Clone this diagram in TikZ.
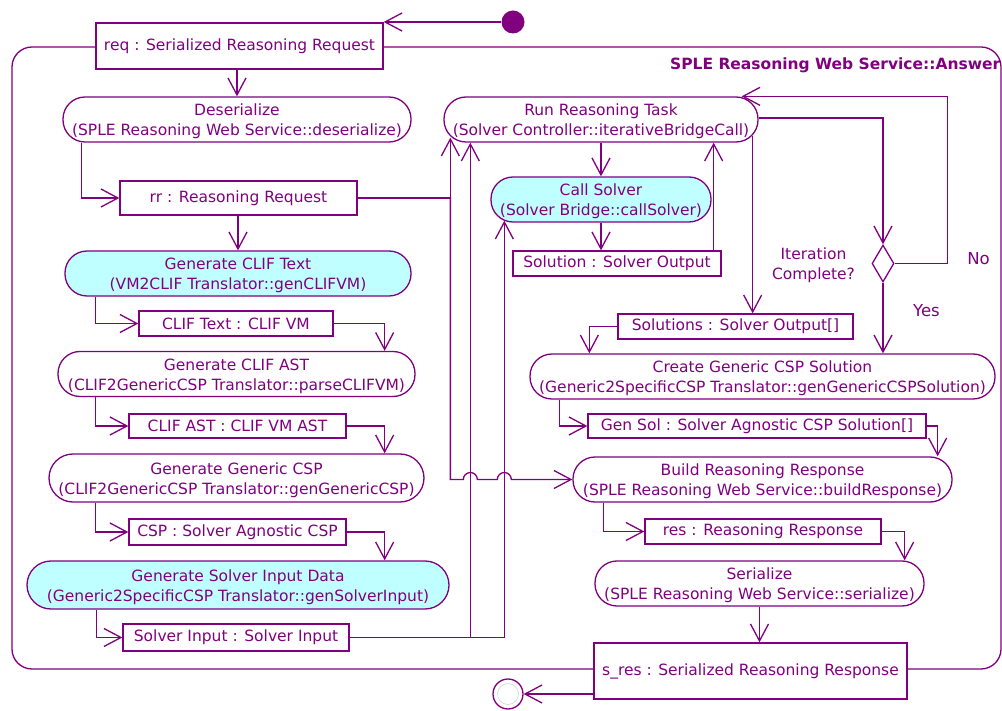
\documentclass[tikz,border=0pt]{standalone}
\usepackage{fontspec}
\setmainfont{DejaVu Sans}
\usetikzlibrary{arrows.meta,shapes.geometric}
\definecolor{pu}{RGB}{128,0,128}
\definecolor{cy}{RGB}{192,255,255}
\begin{document}
\begin{tikzpicture}[x=1pt,y=-1pt,
  every node/.style={text=pu, font=\fontsize{15.5}{20}\selectfont, inner sep=0pt},
  base/.style={draw=pu, line width=1.3pt, fill=white, align=center},
  act/.style={base, rounded corners=22pt, minimum height=45pt, text height=35.5pt},
  cact/.style={act, fill=cy},
  obj/.style={base},
  ln/.style={draw=pu, line width=1.3pt},
  arr/.style={ln, -{Straight Barb[length=17pt,width=18pt,line width=1.3pt]}},
  lbl/.style={font=\fontsize{16.5}{20}\selectfont}
]
\useasboundingbox (0,0) rectangle (1002,711);

% frame
\draw[ln, rounded corners=20pt] (12,47) rectangle (1001,669);
\node[anchor=east, font=\bfseries\fontsize{15.5}{20}\selectfont] (title) at (1000.5,65) {SPLE Reasoning Web Service::Answer};

% start / end
\node[circle, fill=pu, minimum size=23pt] (start) at (513,22) {};
\node[circle, draw=pu, line width=1.3pt, fill=white, minimum size=30pt] (end) at (508,694) {};
\draw[black!20, line width=0.5pt] (end.center) circle[radius=10.5pt];

% left column
\node[obj, minimum width=287pt, minimum height=46pt] (req) at (239.5,46) {req : Serialized Reasoning Request};
\node[act, minimum width=348pt] (des) at (237,119.5) {Deserialize\\(SPLE Reasoning Web Service::deserialize)};
\node[obj, minimum width=237pt, minimum height=34pt] (rr) at (238.5,198) {rr : Reasoning Request};
\node[cact, minimum width=346pt] (gct) at (238,273.5) {Generate CLIF Text\\(VM2CLIF Translator::genCLIFVM)};
\node[obj, minimum width=194pt, minimum height=25pt] (clt) at (236,323.5) {CLIF Text : CLIF VM};
\node[act, minimum width=357pt] (gca) at (236.5,374) {Generate CLIF AST\\(CLIF2GenericCSP Translator::parseCLIFVM)};
\node[obj, minimum width=217pt, minimum height=24pt] (cla) at (237.5,426) {CLIF AST : CLIF VM AST};
\node[act, minimum width=375pt, minimum height=48pt, rounded corners=24pt] (ggc) at (236.5,478) {Generate Generic CSP\\(CLIF2GenericCSP Translator::genGenericCSP)};
\node[obj, minimum width=217pt, minimum height=26pt] (csp) at (237.5,532) {CSP : Solver Agnostic CSP};
\node[cact, minimum width=422pt, minimum height=48pt, rounded corners=24pt] (gsid) at (238,585) {Generate Solver Input Data\\(Generic2SpecificCSP Translator::genSolverInput)};
\node[obj, minimum width=226pt, minimum height=27pt] (si) at (236,637.5) {Solver Input : Solver Input};

% right column
\node[act, minimum width=314pt] (rrt) at (601,119.5) {Run Reasoning Task\\(Solver Controller::iterativeBridgeCall)};
\node[cact, minimum width=220pt] (cs) at (601,199.5) {Call Solver\\(Solver Bridge::callSolver)};
\node[obj, minimum width=208pt, minimum height=25pt] (sol) at (617,263.5) {Solution : Solver Output};
\node[diamond, draw=pu, line width=1.3pt, fill=white, minimum width=22pt, minimum height=37pt] (dia) at (883,263.5) {};
\node[align=center, text height=35.5pt] (itc) at (813.5,263) {Iteration\\Complete?};
\node[lbl] (no) at (978.5,259) {No};
\node[lbl] (yes) at (926.5,311) {Yes};
\node[obj, minimum width=235pt, minimum height=25pt] (sols) at (735.5,326.5) {Solutions : Solver Output[]};
\node[act, minimum width=465pt] (cgcs) at (762.5,376.5) {Create Generic CSP Solution\\(Generic2SpecificCSP Translator::genGenericCSPSolution)};
\node[obj, minimum width=338pt, minimum height=24pt] (gensol) at (757,426) {Gen Sol : Solver Agnostic CSP Solution[]};
\node[act, minimum width=379pt] (brr) at (762.5,479.5) {Build Reasoning Response\\(SPLE Reasoning Web Service::buildResponse)};
\node[obj, minimum width=236pt, minimum height=25pt] (res) at (763,531.5) {res : Reasoning Response};
\node[act, minimum width=329pt] (ser) at (759.5,583.5) {Serialize\\(SPLE Reasoning Web Service::serialize)};
\node[obj, minimum width=313pt, minimum height=56pt] (sres) at (750.5,671) {s\_res : Serialized Reasoning Response};

% connectors: left column
\draw[arr] (start.west) -- (start.west -| req.east);
\draw[arr] (des.north |- req.south) -- (des.north);
\draw[arr] ([xshift=19pt]des.south west) |- (rr.west);
\draw[arr] (gct.north |- rr.south) -- (gct.north);
\draw[arr] ([xshift=31pt]gct.south west) |- (clt.west);
\draw[arr] (clt.east) -| ([xshift=-31pt]gca.north east);
\draw[arr] ([xshift=38pt]gca.south west) |- (cla.west);
\draw[arr] (cla.east) -| ([xshift=-40pt]ggc.north east);
\draw[arr] ([xshift=47pt]ggc.south west) |- (csp.west);
\draw[arr] (csp.east) -| ([xshift=-65pt]gsid.north east);
\draw[arr] ([xshift=70pt]gsid.south west) |- (si.west);

% solver input to reasoning task and call solver
\draw[arr] (si.east) -| ([xshift=27pt]rrt.south west);
\draw[arr] (si.east) -| ([xshift=14pt,yshift=2pt]cs.south west);

% rr to reasoning task and build response
\path ([xshift=7pt,yshift=5pt]rrt.south west) coordinate (rrx);
\draw[arr] (rr.east) -| (rrx);
\draw[arr] (rr.east) -| (rrx |- brr.west) -- ++(13,0)
  arc[start angle=180, end angle=0, radius=7pt] -- ++(20,0)
  arc[start angle=180, end angle=0, radius=7pt] -- (brr.west);

% right column
\draw[arr] (rrt.south) -- (cs.north);
\draw[arr] (cs.south) -- (cs.south |- sol.north);
\draw[arr] ([xshift=-8pt]sol.north east) coordinate (s1) -- (s1 |- rrt.south);
\draw[arr] ([yshift=1.5pt]rrt.east) -| (dia.north);
\draw[arr] (dia.east) -- ++(53,0) |- ([xshift=-17pt]rrt.north east);
\draw[arr] ([xshift=-6pt,yshift=7pt]rrt.south east) coordinate (t1) -- (t1 |- sols.north);
\draw[arr] (dia.south) -- (dia.south |- cgcs.north);
\draw[arr] (sols.west) -| ([xshift=60pt]cgcs.north west);
\draw[arr] ([xshift=30pt]cgcs.south west) |- (gensol.west);
\draw[arr] (gensol.east) -| ([xshift=-15pt]brr.north east);
\draw[arr] ([xshift=31pt]brr.south west) |- (res.west);
\draw[arr] (res.east) -| ([xshift=-20pt]ser.north east);
\draw[arr] (ser.south) -- (ser.south |- sres.north);
\draw[arr] (end -| sres.west) -- (end.east);
\end{tikzpicture}
\end{document}
